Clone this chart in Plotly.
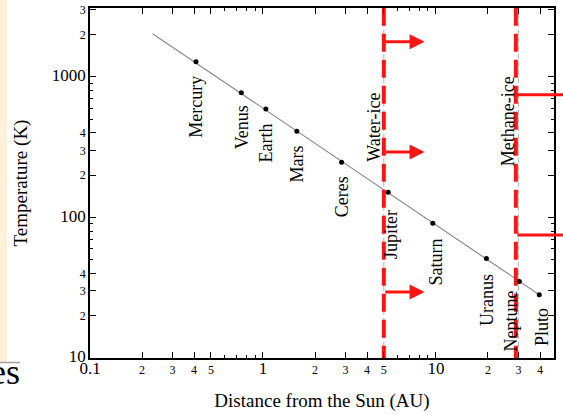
import numpy as np
import plotly.graph_objects as go

# ---------------- data ----------------
planets = ["Mercury", "Venus", "Earth", "Mars", "Ceres", "Jupiter", "Saturn", "Uranus", "Neptune", "Pluto"]
distance_au = [0.41, 0.75, 1.04, 1.57, 2.85, 5.3, 9.6, 19.6, 30.4, 39.6]
temperature_k = [1280, 770, 590, 411, 247, 151, 91, 51, 35, 28.2]

model_x = [0.23, 39.6]
model_y = [2030, 28.2]

water_ice_au = 5.0
methane_ice_au = 29.0
orig_lines_au = [5.0, 30.0]

water_arrow_y = [1775, 292, 29.5]
water_arrow_tip = 8.6
methane_arrow_y = [745, 75]
methane_arrow_tip = 75.0

x_major = [0.1, 0.2, 0.3, 0.4, 0.5, 1, 2, 3, 4, 5, 10, 20, 30, 40]
x_major_text = ["0.1", "2", "3", "4", "5", "1", "2", "3", "4", "5", "10", "2", "3", "4"]
x_minor = [0.6, 0.7, 0.8, 0.9, 6, 7, 8, 9]
y_major = [10, 20, 30, 40, 100, 200, 300, 400, 1000, 2000, 3000]
y_major_text = ["10", "2", "3", "4", "100", "2", "3", "4", "1000", "2", "3"]
y_minor = [50, 60, 70, 80, 90, 500, 600, 700, 800, 900]
big_labels = {"0.1", "1", "10", "100", "1000"}

# label placement (pixels): gap below the point, horizontal shift
label_gap = [12, 10, 12, 12, 12, 16, 13, 13, 7, 11]
label_dx = [0, 0, 0, 0, 0, 3, 3, 0, -8, 2]

SERIF = "Liberation Serif"
RED = "#ff1414"

# ---------------- layout geometry ----------------
W, H = 563, 415
ML, MR, MT, MB = 90, 9, 8, 57
PW, PH = W - ML - MR, H - MT - MB


def px_x(p):
    return (p - ML) / PW


def px_y(p):
    return (H - MB - p) / PH


def fmt(lbls):
    out = []
    for t in lbls:
        if t in big_labels:
            out.append('<span style="font-size:17px">%s</span>' % t)
        else:
            out.append(t)
    return out


fig = go.Figure()

# model line
fig.add_trace(go.Scatter(x=model_x, y=model_y, mode="lines",
                         line=dict(color="#8c8c8c", width=1.2), hoverinfo="skip"))

# original grey dashed condensation lines
for xv in orig_lines_au:
    fig.add_trace(go.Scatter(x=[xv, xv], y=[3200, 10], mode="lines",
                             line=dict(color="#b0b0b0", width=1, dash="5px,3px"),
                             hoverinfo="skip"))

# red dashed lines
for xv in [water_ice_au, methane_ice_au]:
    fig.add_trace(go.Scatter(x=[xv, xv], y=[3100, 10], mode="lines",
                             line=dict(color=RED, width=4, dash="18px,8px"),
                             hoverinfo="skip"))

# planets
fig.add_trace(go.Scatter(x=distance_au, y=temperature_k, mode="markers",
                         marker=dict(color="black", size=5), hoverinfo="skip"))

annotations = []
for name, d, t, g, dx in zip(planets, distance_au, temperature_k, label_gap, label_dx):
    annotations.append(dict(x=np.log10(d), y=np.log10(t), xref="x", yref="y",
                            text=name, showarrow=False, textangle=-90,
                            xanchor="center", yanchor="top", yshift=-g, xshift=dx,
                            font=dict(family=SERIF, size=18, color="black")))

annotations.append(dict(x=np.log10(water_ice_au), y=np.log10(413), xref="x", yref="y",
                        text="Water-ice", showarrow=False, textangle=-90,
                        xanchor="center", yanchor="middle", xshift=-10, yshift=4,
                        font=dict(family=SERIF, size=18, color="black")))
annotations.append(dict(x=np.log10(methane_ice_au), y=np.log10(482), xref="x", yref="y",
                        text="Methane-ice", showarrow=False, textangle=-90,
                        xanchor="center", yanchor="middle", xshift=-7,
                        font=dict(family=SERIF, size=18, color="black")))

for yv in water_arrow_y:
    annotations.append(dict(x=np.log10(water_arrow_tip), y=np.log10(yv), xref="x", yref="y",
                            ax=np.log10(water_ice_au), ay=np.log10(yv), axref="x", ayref="y",
                            text="", showarrow=True, arrowhead=2, arrowsize=1,
                            arrowwidth=3, arrowcolor=RED, standoff=0, startstandoff=0))
for yv in methane_arrow_y:
    annotations.append(dict(x=np.log10(methane_arrow_tip), y=np.log10(yv), xref="x", yref="y",
                            ax=np.log10(methane_ice_au), ay=np.log10(yv), axref="x", ayref="y",
                            text="", showarrow=True, arrowhead=2, arrowsize=1,
                            arrowwidth=3, arrowcolor=RED, standoff=0, startstandoff=0))

# cropped slide text at lower left
annotations.append(dict(x=px_x(21), y=px_y(372), xref="paper", yref="paper",
                        text="es", showarrow=False, xanchor="right", yanchor="middle",
                        borderpad=0,
                        font=dict(family=SERIF, size=36, color="black")))

shapes = [
    dict(type="rect", xref="paper", yref="paper", x0=px_x(0), x1=px_x(7),
         y0=px_y(362), y1=px_y(0), fillcolor="#fdf1d9", line=dict(width=0), layer="below"),
    dict(type="line", xref="paper", yref="paper", x0=px_x(0), x1=px_x(20),
         y0=px_y(362.5), y1=px_y(362.5), line=dict(color="#a8a098", width=1.5)),
]

axis_common = dict(type="log", showgrid=False, zeroline=False, showline=True,
                   linecolor="black", linewidth=1.5, mirror="ticks",
                   ticks="inside", ticklen=6, tickwidth=1, tickcolor="black",
                   automargin=False,
                   tickfont=dict(family=SERIF, size=12, color="black"))

fig.update_layout(
    width=W, height=H,
    margin=dict(l=ML, r=MR, t=MT, b=MB),
    paper_bgcolor="white", plot_bgcolor="white",
    showlegend=False,
    xaxis=dict(axis_common, range=[-1, 1.683], tickmode="array",
               tickvals=x_major, ticktext=fmt(x_major_text),
               minor=dict(tickvals=x_minor, ticks="inside", ticklen=3, tickcolor="black"),
               title=dict(text="Distance from the Sun (AU)", standoff=17,
                          font=dict(family=SERIF, size=19, color="black"))),
    yaxis=dict(axis_common, range=[1, 3.49], tickmode="array",
               tickvals=y_major, ticktext=fmt(y_major_text),
               minor=dict(tickvals=y_minor, ticks="inside", ticklen=3, tickcolor="black"),
               title=dict(text="Temperature (K)", standoff=19,
                          font=dict(family=SERIF, size=19, color="black"))),
    annotations=annotations,
    shapes=shapes,
)

fig.write_html("out.html", config={"displayModeBar": False},
               post_script="document.body.style.margin='0';document.body.style.padding='0';")
